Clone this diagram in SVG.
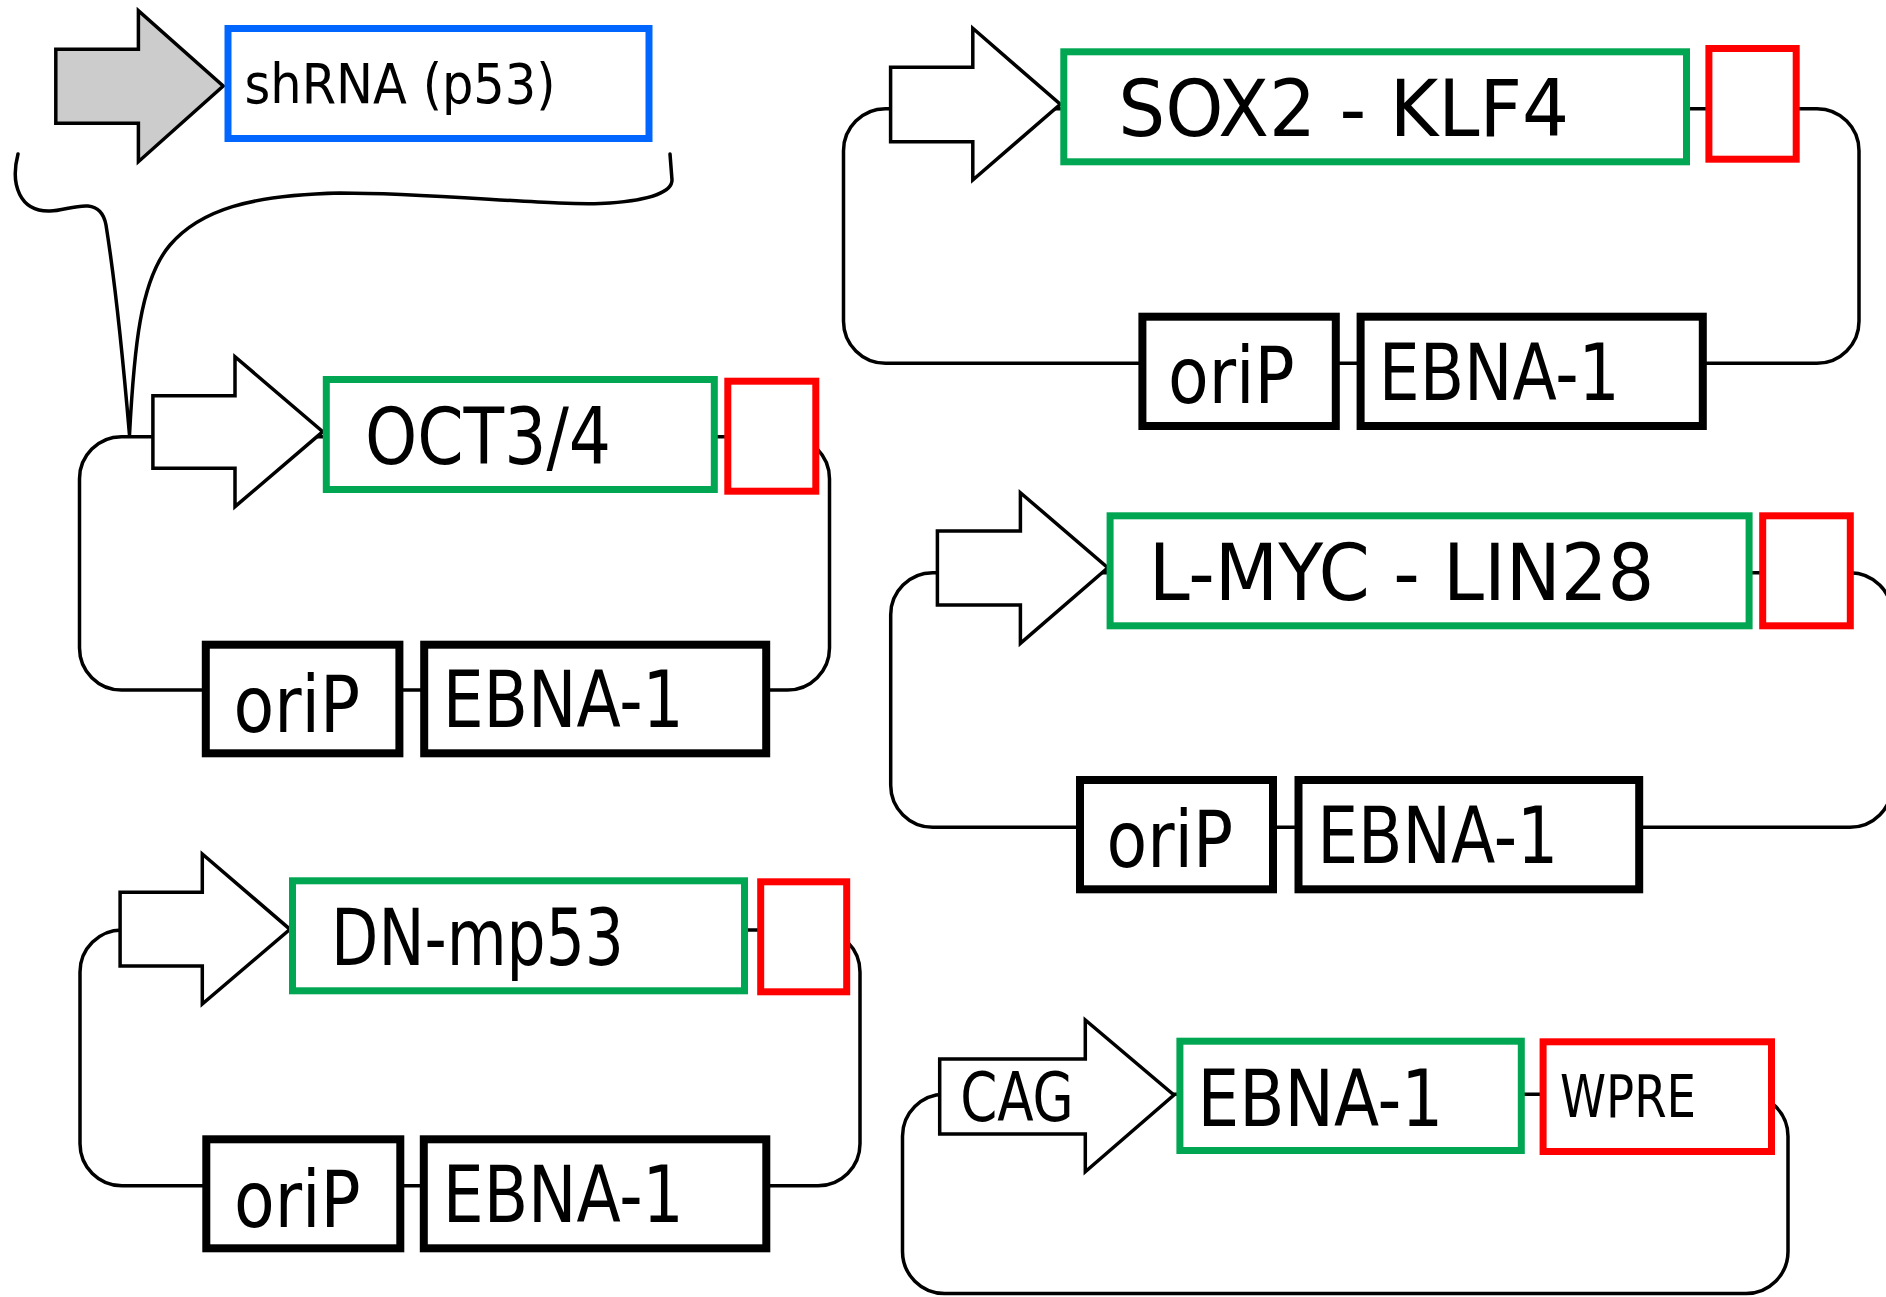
<svg xmlns="http://www.w3.org/2000/svg" width="1886" height="1297" viewBox="0 0 1886 1297">
<style>
.bg{fill:#ffffff}
.loop{fill:none;stroke:#000;stroke-width:3.5}
.brace{fill:none;stroke:#000;stroke-width:3.5;stroke-linecap:round;stroke-linejoin:round}
.prom{fill:#ffffff;stroke:#000;stroke-width:3.5;stroke-linejoin:miter}
.promg{fill:#cccccc;stroke:#000;stroke-width:3.5;stroke-linejoin:miter}
.gene{fill:#ffffff;stroke:#00a651;stroke-width:7}
.term{fill:#ffffff;stroke:#ff0000;stroke-width:7}
.sh{fill:#ffffff;stroke:#0066ff;stroke-width:7}
.blk{fill:#ffffff;stroke:#000;stroke-width:8}
text{font-family:"Liberation Sans Narrow","DejaVu Sans Condensed","Liberation Sans",sans-serif;fill:#000}
.t78{font-size:78px}
.t68{font-size:68px}
.t58{font-size:58px}
.t56{font-size:56px}
</style>
<rect class="bg" x="0" y="0" width="1886" height="1297"/>

<g id="connectors">
  <rect class="loop" x="79.5" y="436.7" width="750" height="253.3" rx="42" ry="42"/>
  <rect class="loop" x="80" y="930" width="780" height="255.7" rx="42" ry="42"/>
  <rect class="loop" x="843.5" y="108.7" width="1015.5" height="254.6" rx="42" ry="42"/>
  <rect class="loop" x="890.7" y="572.7" width="1001.3" height="254.6" rx="42" ry="42"/>
  <rect class="loop" x="902.5" y="1094.3" width="885.5" height="199.2" rx="42" ry="42"/>
  <path class="brace" d="M18 154 C10 185 20 212 50 211 C62 211 75 205 88 206 C98 207 104 214 106 225 C110 250 118 300 129.5 435 C134 350 140 280 170 245 C200 210 250 195 340 193 C440 193 560 207 610 203 C650 200 672 192 672 180 L670 154"/>
</g>

<g id="shrna">
  <polygon class="promg" points="55.8,49.3 138.4,49.3 138.4,10.7 223.2,86 138.4,161.7 138.4,123.3 55.8,123.3"/>
  <rect class="sh" x="228" y="28.5" width="421" height="110"/>
  <text class="t56" x="244.6" y="103.3" textLength="311" lengthAdjust="spacingAndGlyphs">shRNA (p53)</text>
</g>

<g id="oct">
  <polygon class="prom" points="152.9,395.7 235,395.7 235,356.7 322.8,431.7 235,506.7 235,468.3 152.9,468.3"/>
  <rect class="gene" x="326.3" y="379.5" width="388" height="110"/>
  <text class="t78" x="365" y="464" textLength="246" lengthAdjust="spacingAndGlyphs">OCT3/4</text>
  <rect class="term" x="727.8" y="381.2" width="88" height="110"/>
  <rect class="blk" x="205.8" y="644.7" width="193.6" height="108.6"/>
  <text class="t78" x="233.5" y="731.7" textLength="126.5" lengthAdjust="spacingAndGlyphs">oriP</text>
  <rect class="blk" x="424.2" y="644.7" width="342" height="108.6"/>
  <text class="t78" x="442.7" y="727.3" textLength="241" lengthAdjust="spacingAndGlyphs">EBNA-1</text>
</g>

<g id="dn">
  <polygon class="prom" points="120.1,892.3 202.3,892.3 202.3,854 290,929.3 202.3,1004 202.3,966 120.1,966"/>
  <rect class="gene" x="292.5" y="880.8" width="452" height="110"/>
  <text class="t78" x="331" y="965" textLength="293" lengthAdjust="spacingAndGlyphs">DN-mp53</text>
  <rect class="term" x="760.7" y="881.8" width="86" height="110"/>
  <rect class="blk" x="206.3" y="1139.3" width="194" height="109"/>
  <text class="t78" x="234" y="1226.7" textLength="126.5" lengthAdjust="spacingAndGlyphs">oriP</text>
  <rect class="blk" x="423.8" y="1139.3" width="342.5" height="109"/>
  <text class="t78" x="442.8" y="1221.7" textLength="241" lengthAdjust="spacingAndGlyphs">EBNA-1</text>
</g>

<g id="sox">
  <polygon class="prom" points="890.6,67.3 972.8,67.3 972.8,28.3 1060.3,104.3 972.8,180 972.8,141.7 890.6,141.7"/>
  <rect class="gene" x="1063.8" y="51.8" width="622.7" height="110"/>
  <text class="t78" x="1118.2" y="136" textLength="451" lengthAdjust="spacingAndGlyphs">SOX2 - KLF4</text>
  <rect class="term" x="1708.9" y="48.5" width="87.3" height="110.7"/>
  <rect class="blk" x="1142.4" y="316.7" width="193.4" height="109.3"/>
  <text class="t78" x="1168" y="403.3" textLength="126.5" lengthAdjust="spacingAndGlyphs">oriP</text>
  <rect class="blk" x="1360.6" y="316.7" width="342.2" height="109.3"/>
  <text class="t78" x="1378.8" y="400" textLength="241" lengthAdjust="spacingAndGlyphs">EBNA-1</text>
</g>

<g id="lmyc">
  <polygon class="prom" points="937.4,531 1020.4,531 1020.4,492.7 1107.8,567.7 1020.4,643.3 1020.4,605 937.4,605"/>
  <rect class="gene" x="1110.1" y="515.8" width="639" height="110"/>
  <text class="t78" x="1148.7" y="600" textLength="505.5" lengthAdjust="spacingAndGlyphs">L-MYC - LIN28</text>
  <rect class="term" x="1762.7" y="515.8" width="87.6" height="110"/>
  <rect class="blk" x="1080" y="780" width="193" height="109.3"/>
  <text class="t78" x="1106.5" y="866.7" textLength="126.5" lengthAdjust="spacingAndGlyphs">oriP</text>
  <rect class="blk" x="1298.5" y="780" width="340.7" height="109.3"/>
  <text class="t78" x="1317.2" y="863.3" textLength="241" lengthAdjust="spacingAndGlyphs">EBNA-1</text>
</g>

<g id="cag">
  <polygon class="prom" points="939.7,1059 1085.3,1059 1085.3,1020 1173.9,1095 1085.3,1171.7 1085.3,1134 939.7,1134"/>
  <text class="t68" x="960.2" y="1120.7" textLength="113.6" lengthAdjust="spacingAndGlyphs">CAG</text>
  <rect class="gene" x="1179.9" y="1041.2" width="341.4" height="109.3"/>
  <text class="t78" x="1197.6" y="1125.7" textLength="245.7" lengthAdjust="spacingAndGlyphs">EBNA-1</text>
  <rect class="term" x="1543.1" y="1041.8" width="228.4" height="109.7"/>
  <text class="t58" x="1560" y="1116.7" textLength="136" lengthAdjust="spacingAndGlyphs">WPRE</text>
</g>
</svg>
